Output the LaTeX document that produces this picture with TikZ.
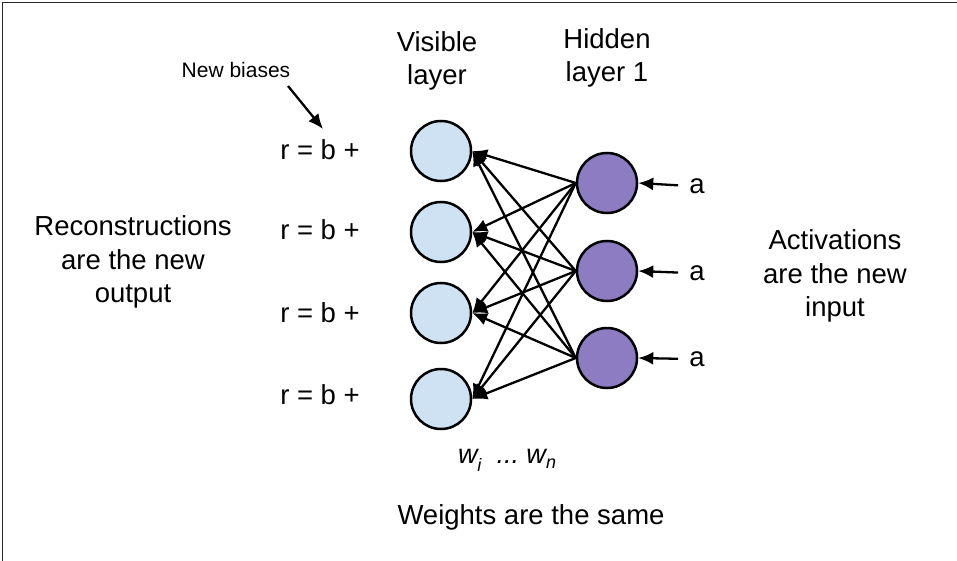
\documentclass[tikz,border=0pt]{standalone}
\usepackage{fontspec}
\setmainfont{Liberation Sans}
\usetikzlibrary{arrows.meta}
\definecolor{vis}{HTML}{CFE2F3}
\definecolor{hid}{HTML}{8E7CC3}
\tikzset{
  base/.style={font=\fontsize{27.5}{33.5}\selectfont, align=center, inner sep=0pt},
  visnode/.style={circle, draw=black, line width=2.5pt, fill=vis, minimum size=60pt, inner sep=0pt},
  hidnode/.style={circle, draw=black, line width=2.5pt, fill=hid, minimum size=60pt, inner sep=0pt},
  conn/.style={line width=2.3pt, -{Latex[length=15pt,width=13pt]}},
}
\begin{document}
\begin{tikzpicture}[x=1pt,y=-1pt]
\useasboundingbox (0,0) rectangle (957,561);
\draw[line width=1.8pt, black!85] (2.5,561) -- (2.5,2.5) -- (957,2.5);

% visible layer
\node[visnode] (v1) at (441,151) {};
\node[visnode] (v2) at (441,232) {};
\node[visnode] (v3) at (441,313) {};
\node[visnode] (v4) at (441,399) {};
% hidden layer
\node[hidnode] (h1) at (607,183) {};
\node[hidnode] (h2) at (607,271) {};
\node[hidnode] (h3) at (607,358) {};

\foreach \h in {h1,h2,h3}{
  \foreach \v in {v1,v2,v3,v4}{
    \draw[conn] (\h.west) -- (\v.east);
  }
}

% bias labels
\node[base] (r1) at (320,150) {r = b +};
\node[base] (r2) at (320,230) {r = b +};
\node[base] (r3) at (320,313) {r = b +};
\node[base] (r4) at (320,395) {r = b +};

% input labels
\node[base] (a1) at (697,186) {a};
\node[base] (a2) at (697,273) {a};
\node[base] (a3) at (697,359) {a};
\foreach \i in {1,2,3}{
  \draw[conn, shorten <=11pt] (a\i.west) -- (h\i.east);
}

% titles
\node[base] (vt) at (437,61) {Visible\\layer};
\node[base] (ht) at (607,58) {Hidden\\layer 1};

\node[base, font=\fontsize{21}{25}\selectfont] (nb) at (236,70) {New biases};
\coordinate (nbs) at (288,86);
\coordinate (nbe) at (323,129);
\draw[conn] (nbs) -- (nbe);

\node[base] (rec) at (133,262) {Reconstructions\\are the new\\output};
\node[base] (act) at (835,276) {Activations\\are the new\\input};

\node[base, font=\fontsize{27}{33}\itshape] (w) at (507,460) {w\raisebox{-8pt}{\fontsize{18}{20}\selectfont\itshape i}\ \ ...\ w\raisebox{-5pt}{\fontsize{18}{20}\selectfont\itshape n}};
\node[base] (ws) at (531,517) {Weights are the same};
\end{tikzpicture}
\end{document}
